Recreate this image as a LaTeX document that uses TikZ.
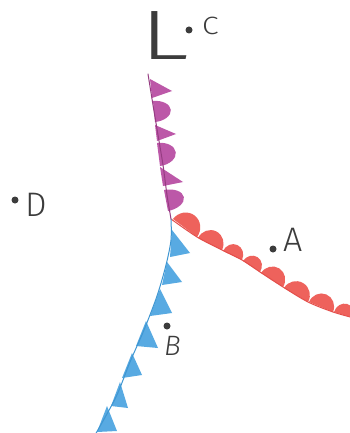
\documentclass[tikz,border=0pt]{standalone}
\usepackage{fontspec}
\newfontfamily\handfont{Fira Sans Light}
\usetikzlibrary{calc}
\definecolor{occl}{RGB}{150,60,130}
\definecolor{occlfill}{RGB}{188,88,168}
\definecolor{warm}{RGB}{228,78,74}
\definecolor{warmfill}{RGB}{238,98,92}
\definecolor{cold}{RGB}{62,150,210}
\definecolor{coldfill}{RGB}{88,170,226}
\definecolor{pencil}{RGB}{60,60,60}
% #1 fill colour, #2 first base point, #3 second base point, #4 bulge factor
\newcommand\frontsemi[4]{%
  \coordinate (sA) at (#2); \coordinate (sB) at (#3);
  \coordinate (sM) at ($(sA)!0.5!(sB)$);
  \coordinate (sT) at ($(sM)!#4!90:(sB)$);
  \coordinate (sT1) at ($(sT)+(sA)-(sM)$);
  \coordinate (sT2) at ($(sT)+(sB)-(sM)$);
  \fill[#1] (sA) .. controls ($(sA)!0.276*#4!90:(sB)$) and ($(sT)!0.552!(sT1)$) .. (sT)
    .. controls ($(sT)!0.552!(sT2)$) and ($(sB)!0.276*#4!-90:(sA)$) .. (sB) -- cycle;
}
\tikzset{
  frontline/.style={line width=1pt, line cap=round},
  lbl/.style={text=pencil, font=\handfont, inner sep=0pt},
  pdot/.style={circle, fill=pencil, inner sep=0pt, minimum size=7pt},
}
\begin{document}
\begin{tikzpicture}[x=1pt,y=-1pt]
\useasboundingbox (0,0) rectangle (350,433);
\fill[white] (0,0) rectangle (350,433);

% occluded front shapes
\fill[occlfill] (150,79) -- (172,91) -- (152,98) -- cycle;
\frontsemi{occlfill}{153,101}{155,122}{1.6}
\fill[occlfill] (155,125) -- (176,134) -- (157,141) -- cycle;
\frontsemi{occlfill}{157,143}{160,166}{1.5}
\fill[occlfill] (160,167) -- (183,182) -- (163,186) -- cycle;
\frontsemi{occlfill}{164,190}{168,211}{1.7}

% warm front shapes
\frontsemi{warmfill}{173,219}{197,237}{1.05}
\frontsemi{warmfill}{198,238}{222,250}{1.05}
\frontsemi{warmfill}{223,251}{242,260}{1.1}
\frontsemi{warmfill}{243,261}{260,272}{1.1}
\frontsemi{warmfill}{261,273}{283,287}{1.05}
\frontsemi{warmfill}{284,288}{308,302}{1}
\frontsemi{warmfill}{309,302}{333,312}{1.05}
\frontsemi{warmfill}{334,312}{354,318}{1.1}

% cold front shapes
\fill[coldfill] (172,230) -- (190,253) -- (170,257) -- cycle;
\fill[coldfill] (167,262) -- (182,282) -- (162,285) -- cycle;
\fill[coldfill] (160,289) -- (172,313) -- (150,316) -- cycle;
\fill[coldfill] (146,321) -- (158,348) -- (136,346) -- cycle;
\fill[coldfill] (132,353) -- (142,375) -- (122,378) -- cycle;
\fill[coldfill] (120,382) -- (128,408) -- (111,406) -- cycle;
\fill[coldfill] (107,406) -- (117,431) -- (97,432) -- cycle;

% front lines
\coordinate (J) at (171,219);
\coordinate (occlTop) at (148,74);
\coordinate (warmEnd) at (354,318);
\coordinate (coldEnd) at (95,435);
\draw[frontline, occl] plot[smooth] coordinates {(occlTop) (153,105) (158,135) (163,165) (167,195) (J)};
\draw[frontline, warm] plot[smooth] coordinates {(J) (197,237) (222,250) (242,260) (260,272) (283,287) (308,302) (333,312) (warmEnd)};
\draw[frontline, cold] plot[smooth] coordinates {(J) (171,240) (166,265) (157,296) (144,330) (130,362) (116,397) (coldEnd)};

% labels
\node[lbl, font=\handfont\fontsize{70}{70}\selectfont, xscale=1.45, anchor=base west] (L) at (140,60) {L};
\node[pdot] (dC) at (189,30) {};
\node[lbl, font=\handfont\fontsize{25}{25}\selectfont, xscale=1.2, anchor=base west] (C) at (202,35) {C};
\node[pdot] (dD) at (15,200) {};
\node[lbl, font=\handfont\fontsize{34}{34}\selectfont, anchor=base west] (D) at (25,216) {D};
\node[pdot] (dA) at (273,249) {};
\node[lbl, font=\handfont\fontsize{34}{34}\selectfont, anchor=base west] (A) at (283,251) {A};
\node[pdot] (dB) at (167,326) {};
\node[lbl, font=\handfont\itshape\fontsize{28}{28}\selectfont, anchor=base west] (B) at (164,355) {B};
\end{tikzpicture}
\end{document}
